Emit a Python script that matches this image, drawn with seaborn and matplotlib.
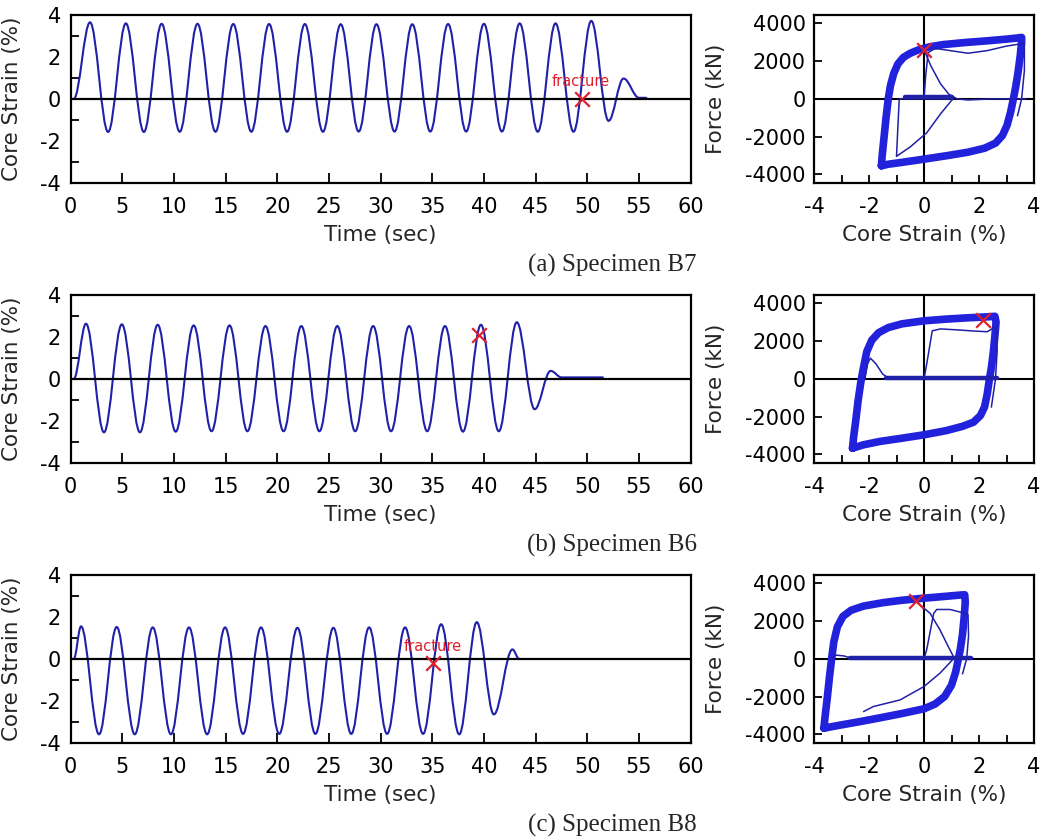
import matplotlib
matplotlib.use('Agg')
import matplotlib.pyplot as plt
from matplotlib.path import Path
from matplotlib.patches import PathPatch
from matplotlib.ticker import FixedLocator
import seaborn as sns

sns.set_style('ticks')
plt.rcParams['font.family'] = ['DejaVu Sans']
plt.rcParams['axes.unicode_minus'] = False

# ---- core strain time histories: peaks / troughs ----
b7_t = [0.3, 1.87, 3.62, 5.34, 7.08, 8.80, 10.55, 12.27, 14.01, 15.73, 17.48, 19.20,
        20.94, 22.66, 24.41, 26.13, 27.87, 29.59, 31.34, 33.06, 34.80, 36.52, 38.27,
        39.99, 41.73, 43.45, 45.20, 46.92, 48.66, 50.38, 52.05, 53.50, 55.0, 55.7]
b7_eps = [0.0, 3.65, -1.58, 3.60, -1.58, 3.58, -1.57, 3.58, -1.57, 3.57, -1.57, 3.57,
          -1.57, 3.57, -1.57, 3.56, -1.56, 3.56, -1.56, 3.56, -1.56, 3.57, -1.56,
          3.58, -1.56, 3.60, -1.57, 3.60, -1.57, 3.72, -1.05, 0.97, 0.05, 0.05]

b6_t = [0.3, 1.48, 3.22, 4.95, 6.70, 8.42, 10.16, 11.90, 13.63, 15.37, 17.10, 18.85,
        20.60, 22.32, 24.07, 25.80, 27.53, 29.27, 31.00, 32.75, 34.50, 36.22, 37.96,
        39.70, 41.43, 43.17, 44.90, 46.45, 47.5, 51.5]
b6_eps = [0.0, 2.63, -2.55, 2.60, -2.55, 2.58, -2.52, 2.55, -2.50, 2.55, -2.50, 2.52,
          -2.50, 2.52, -2.50, 2.52, -2.50, 2.52, -2.50, 2.52, -2.50, 2.52, -2.52,
          2.58, -2.50, 2.70, -1.45, 0.38, 0.07, 0.07]

b8_t = [0.3, 1.00, 2.74, 4.45, 6.20, 7.94, 9.70, 11.45, 13.20, 14.94, 16.68, 18.42,
        20.18, 21.94, 23.68, 25.42, 27.15, 28.88, 30.62, 32.36, 34.10, 35.85, 37.60,
        39.30, 40.95, 42.75, 43.4]
b8_eps = [0.0, 1.55, -3.60, 1.52, -3.60, 1.50, -3.60, 1.50, -3.60, 1.50, -3.58, 1.50,
          -3.58, 1.48, -3.58, 1.48, -3.58, 1.50, -3.58, 1.50, -3.58, 1.65, -3.60,
          1.75, -2.65, 0.45, 0.0]

# fracture points on the time histories (sec, %)
frac_t = [49.45, 39.5, 35.1]
frac_eps = [0.0, 2.1, -0.2]
frac_label = [True, False, True]

# ---- hysteresis: stable loop + thin single-cycle paths (strain %, force kN) ----
b7_loop_eps = [-1.55, -1.52, -1.45, -1.38, -1.30, -1.22, -1.10, -0.95, -0.75, -0.50,
               -0.20, 0.20, 0.70, 1.50, 2.30, 3.00, 3.40, 3.55, 3.55, 3.50, 3.42, 3.33,
               3.25, 3.15, 3.02, 2.85, 2.60, 2.20, 1.60, 0.90, 0.00, -0.80, -1.30, -1.55]
b7_loop_f = [-3550, -3000, -2000, -1000, 0, 700, 1350, 1850, 2200, 2420,
             2600, 2760, 2880, 2990, 3080, 3170, 3230, 3260, 3000, 2300, 1400, 600,
             0, -700, -1400, -1950, -2350, -2620, -2830, -3000, -3200, -3370, -3470, -3550]
b7_first_eps = [0.00, 0.06, 0.15, 0.40, 1.00, 1.60, 2.30, 3.00, 3.65, 3.65, 3.55, 3.40]
b7_first_f = [0, 1200, 2450, 2680, 2550, 2420, 2560, 2800, 2950, 1500, 0, -900]
b7_drop_eps = [0.00, 0.25, 0.60, 0.90, 1.20, 1.60, 2.50, 3.70]
b7_drop_f = [2600, 1750, 800, 250, 0, -60, 0, 0]
b7_comp_eps = [1.00, -0.20, -0.90, -0.95, -1.00, -0.50, 0.10, 0.60, 1.05]
b7_comp_f = [0, 0, 0, -1500, -3050, -2550, -1800, -800, 0]
b7_rest_eps = [-0.70, 1.00]
b7_rest_f = [80, 80]

b6_loop_eps = [-2.60, -2.56, -2.48, -2.40, -2.30, -2.20, -2.08, -1.90, -1.65, -1.30,
               -0.80, 0.00, 0.80, 1.60, 2.30, 2.58, 2.62, 2.58, 2.52, 2.45, 2.38, 2.30,
               2.20, 2.05, 1.80, 1.40, 0.80, 0.00, -0.80, -1.60, -2.20, -2.60]
b6_loop_f = [-3680, -3100, -2200, -1200, -200, 600, 1450, 2050, 2450, 2720,
             2920, 3080, 3170, 3240, 3290, 3320, 3000, 2300, 1400, 600, 0, -800,
             -1500, -1950, -2300, -2520, -2750, -2970, -3150, -3320, -3500, -3680]
b6_first_eps = [0.00, 0.10, 0.30, 0.60, 1.20, 1.80, 2.30, 2.62, 2.66, 2.60, 2.45]
b6_first_f = [0, 800, 2550, 2650, 2600, 2540, 2500, 2780, 1500, 0, -1500]
b6_bump_eps = [-2.15, -2.05, -1.95, -1.75, -1.50, -1.30]
b6_bump_f = [0, 800, 1100, 800, 250, 50]
b6_rest_eps = [-1.40, 2.65]
b6_rest_f = [60, 60]

b8_loop_eps = [-3.64, -3.60, -3.52, -3.44, -3.36, -3.28, -3.15, -2.95, -2.65, -2.20,
               -1.50, -0.80, 0.00, 0.80, 1.35, 1.48, 1.50, 1.46, 1.40, 1.32, 1.25,
               1.15, 1.00, 0.75, 0.40, 0.00, -0.80, -1.60, -2.40, -3.10, -3.64]
b8_loop_f = [-3680, -3100, -2100, -1000, 0, 900, 1700, 2250, 2580, 2800,
             2980, 3110, 3220, 3320, 3390, 3400, 3000, 2200, 1300, 500, 0,
             -700, -1400, -2000, -2400, -2650, -2900, -3130, -3350, -3530, -3680]
b8_first_eps = [0.00, 0.10, 0.35, 0.46, 0.95, 1.40, 1.60, 1.62, 1.55, 1.40]
b8_first_f = [0, 500, 2400, 2620, 2620, 2450, 2350, 1200, 0, -800]
b8_drop_eps = [-0.30, 0.22, 0.58, 0.90, 1.07]
b8_drop_f = [3050, 2420, 1540, 600, 120]
b8_comp_eps = [1.07, 0.58, 0.00, -0.87, -1.84, -2.20]
b8_comp_f = [0, -760, -1470, -2180, -2530, -2800]
b8_bump_eps = [-3.35, -3.20, -2.90, -2.70]
b8_bump_f = [0, 200, 150, 60]
b8_rest_eps = [-2.70, 1.70]
b8_rest_f = [60, 60]

# fracture points on the hysteresis (strain %, force kN)
hfrac_eps = [0.0, 2.15, -0.3]
hfrac_f = [2600, 3130, 3050]

captions = ['(a) Specimen B7', '(b) Specimen B6', '(c) Specimen B8']

series = [(b7_t, b7_eps), (b6_t, b6_eps), (b8_t, b8_eps)]
loops = [(b7_loop_eps, b7_loop_f), (b6_loop_eps, b6_loop_f), (b8_loop_eps, b8_loop_f)]
thin = [[(b7_first_eps, b7_first_f), (b7_drop_eps, b7_drop_f), (b7_comp_eps, b7_comp_f)],
        [(b6_first_eps, b6_first_f), (b6_bump_eps, b6_bump_f)],
        [(b8_first_eps, b8_first_f), (b8_drop_eps, b8_drop_f), (b8_comp_eps, b8_comp_f),
         (b8_bump_eps, b8_bump_f)]]
rest = [(b7_rest_eps, b7_rest_f), (b6_rest_eps, b6_rest_f), (b8_rest_eps, b8_rest_f)]

LINE = '#2020a8'
LOOP = '#2222dc'
RED = '#e0202c'


def smooth_path(t, y):
    # cubic bezier through each extremum with flat tangent there
    verts = [(t[0], y[0])]
    codes = [Path.MOVETO]
    for i in range(len(t) - 1):
        d = (t[i + 1] - t[i]) * 0.363
        verts += [(t[i] + d, y[i]), (t[i + 1] - d, y[i + 1]), (t[i + 1], y[i + 1])]
        codes += [Path.CURVE4] * 3
    return Path(verts, codes)


def frame(ax):
    for s in ax.spines.values():
        s.set_visible(True)
        s.set_linewidth(1.6)
        s.set_color('black')
    ax.tick_params(which='both', direction='in', width=1.3, color='black',
                   labelsize=15, labelcolor='black')


fig = plt.figure(figsize=(10.44, 8.38), dpi=100)
W, H = 1044., 838.
row_top = [15, 295, 575]
ax_h = 167.7

for r in range(3):
    bottom = 1 - (row_top[r] + ax_h) / H
    # ---- time history ----
    ax = fig.add_axes([70.7 / W, bottom, 620 / W, ax_h / H])
    t, eps = series[r]
    ax.add_patch(PathPatch(smooth_path(t, eps), fill=False, ec=LINE, lw=1.5,
                           capstyle='round', joinstyle='round', zorder=2))
    ax.axhline(0, color='black', lw=1.6, zorder=3)
    sns.scatterplot(x=[frac_t[r]], y=[frac_eps[r]], marker='x', s=110, color=RED,
                    linewidth=1.6, ax=ax, zorder=4)
    if frac_label[r]:
        ax.text(frac_t[r] - 0.1, frac_eps[r] + 0.45, 'fracture', color=RED,
                fontsize=10.5, ha='center', va='bottom', zorder=5)
    ax.set_xlim(0, 60)
    ax.set_ylim(-4, 4)
    frame(ax)
    ax.xaxis.set_major_locator(FixedLocator(range(0, 61, 5)))
    ax.yaxis.set_major_locator(FixedLocator([-4, -2, 0, 2, 4]))
    ax.yaxis.set_minor_locator(FixedLocator([-3, -1, 1, 3]))
    ax.tick_params(axis='x', which='major', length=7, pad=10)
    ax.tick_params(axis='y', which='major', length=0, pad=7)
    ax.tick_params(axis='y', which='minor', length=6)
    ax.set_xlabel('Time (sec)', fontsize=15.5)
    ax.set_ylabel('Core Strain (%)', fontsize=15.5)
    ax.xaxis.set_label_coords(0.5, -0.25)
    ax.yaxis.set_label_coords(-0.078, 0.5)

    # ---- hysteresis ----
    bx = fig.add_axes([814 / W, bottom, 220 / W, ax_h / H])
    bx.axhline(0, color='black', lw=1.5, zorder=1)
    bx.axvline(0, color='black', lw=1.5, zorder=1)
    le, lf = loops[r]
    sns.lineplot(x=le, y=lf, sort=False, estimator=None, color=LOOP, lw=5.5,
                 solid_joinstyle='round', solid_capstyle='round', ax=bx, zorder=2)
    for pe, pf in thin[r]:
        sns.lineplot(x=pe, y=pf, sort=False, estimator=None, color=LINE, lw=1.1,
                     ax=bx, zorder=3)
    re_, rf = rest[r]
    sns.lineplot(x=re_, y=rf, sort=False, estimator=None, color=LINE, lw=3.2,
                 ax=bx, zorder=3)
    sns.scatterplot(x=[hfrac_eps[r]], y=[hfrac_f[r]], marker='x', s=110, color=RED,
                    linewidth=1.6, ax=bx, zorder=4)
    bx.set_xlim(-4, 4)
    bx.set_ylim(-4450, 4450)
    frame(bx)
    bx.xaxis.set_major_locator(FixedLocator([-4, -2, 0, 2, 4]))
    bx.xaxis.set_minor_locator(FixedLocator([-3, -1, 1, 3]))
    bx.yaxis.set_major_locator(FixedLocator([-4000, -2000, 0, 2000, 4000]))
    bx.tick_params(axis='x', which='both', length=6, pad=10)
    bx.tick_params(axis='y', which='major', length=6, pad=6)
    bx.set_xlabel('Core Strain (%)', fontsize=15.5)
    bx.set_ylabel('Force (kN)', fontsize=15.5)
    bx.xaxis.set_label_coords(0.5, -0.25)
    bx.yaxis.set_label_coords(-0.40, 0.5)

    fig.text(697 / W, 1 - (row_top[r] + 250) / H, captions[r], ha='right', va='center',
             fontsize=18, family='Liberation Serif')

fig.savefig('out.png', dpi=100)
